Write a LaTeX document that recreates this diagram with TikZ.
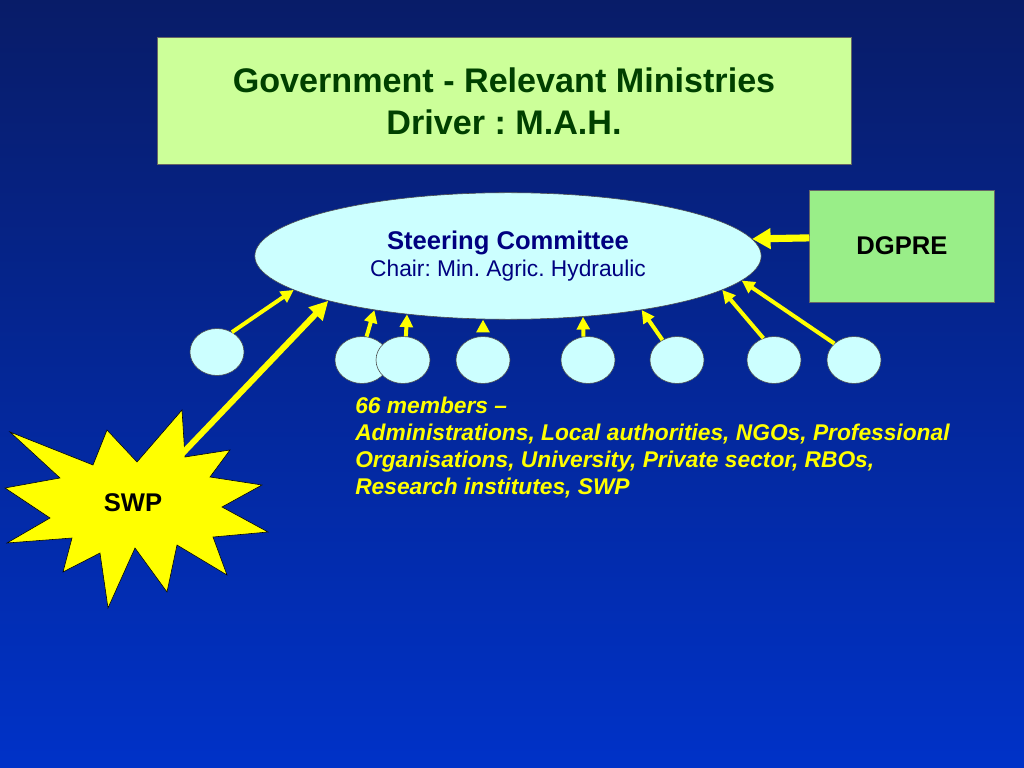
\documentclass[tikz,border=0pt]{standalone}
\usepackage{fontspec}
\setmainfont{Liberation Sans}
\frenchspacing
\usetikzlibrary{positioning,shapes.geometric,arrows.meta}
\definecolor{bgtop}{RGB}{8,28,104}
\definecolor{bgbot}{RGB}{0,50,200}
\definecolor{govfill}{RGB}{204,255,153}
\definecolor{govtext}{RGB}{0,64,0}
\definecolor{scfill}{RGB}{204,255,255}
\definecolor{sctext}{RGB}{0,0,128}
\definecolor{dgfill}{RGB}{153,238,136}
\definecolor{swpyellow}{RGB}{255,255,0}
\tikzset{
	member/.style={ellipse, draw=black!70, thin, fill=scfill, inner sep=0pt, minimum width=38pt, minimum height=33pt},
	feed/.style={draw=swpyellow, line width=2.8pt, -{Stealth[inset=0pt, length=9pt, width=9pt]}},
}

\begin{document}
\begin{tikzpicture}[x=0.703125pt, y=-0.703125pt]
	\fill[top color=bgtop, bottom color=bgbot] (0,0) rectangle (1024,768);
	\useasboundingbox (0,0) rectangle (1024,768);

	\node (gov) at (504,101) [draw=black!60, fill=govfill, minimum width=488pt, minimum height=89pt, align=center, text=govtext, font=\fontsize{24}{29.5}\selectfont\bfseries]
		{Government - Relevant Ministries\\Driver : M.A.H.};

	\node (sc) at (508,256) [ellipse, draw=black!70, fill=scfill, inner sep=0pt, minimum width=356pt, minimum height=89pt, align=center, text=sctext]
		{{\fontsize{18}{20}\selectfont\bfseries Steering Committee}\\[3pt]{\fontsize{16}{19}\selectfont Chair: Min. Agric. Hydraulic}};

	\node (dg) at (902,246) [draw=black!60, fill=dgfill, minimum width=130pt, minimum height=79pt, font=\fontsize{18}{20}\selectfont\bfseries] {DGPRE};

	% members
	\node[member] (c1) at (217,352) {};
	\node[member] (c2) at (362,360) {};
	\node[member] (c3) at (403,360) {};
	\node[member] (c4) at (483,360) {};
	\node[member] (c5) at (588,360) {};
	\node[member] (c6) at (677,360) {};
	\node[member] (c7) at (774,360) {};
	\node[member] (c8) at (854,360) {};

	% SWP star
	\filldraw[fill=swpyellow, draw=black, thin] (10,432) -- (93,465) -- (107,430) -- (137,462) -- (182,410) -- (185,457)
		-- (230,450) -- (210,477) -- (262,485) -- (222,507) -- (268,532) -- (213,537) -- (227,575) -- (177,545)
		-- (167,592) -- (135,548) -- (108,608) -- (100,553) -- (63,572) -- (72,538) -- (7,543) -- (50,518)
		-- (5,488) -- (60,478) -- cycle;
	\node (swp) at (133,503) [font=\fontsize{18}{20}\selectfont\bfseries] {SWP};
	\coordinate (swptip) at (181,455);

	\node (members) at (355,397) [anchor=north west, inner sep=0pt, align=left, text=swpyellow, font=\fontsize{16}{19}\selectfont\bfseries\itshape]
		{66 members --\\Administrations, Local authorities, NGOs, Professional\\Organisations, University, Private sector, RBOs,\\Research institutes, SWP};

	\draw[feed] (c1.53) to (sc.189);
	\draw[feed] (c2.79) to (sc.202);
	\draw[feed] (c3.83) to (sc.210);
	\draw[feed, shorten <=7pt] (c4.north) to (c4.north |- sc.south);
	\draw[feed] (c5.101) to (sc.321);
	\draw[feed] (c6.126) to (sc.338);
	\draw[feed] (c7.116) to (sc.351);
	\draw[feed] (c8.140) to (sc.354);
	\draw[feed, line width=4.2pt, -{Stealth[inset=0pt, length=13pt, width=13pt]}] (swptip) to (sc.194);
	\draw[feed, line width=5pt, -{Stealth[inset=0pt, length=13pt, width=14pt]}] (dg.175) to (sc.4);
\end{tikzpicture}
\end{document}
